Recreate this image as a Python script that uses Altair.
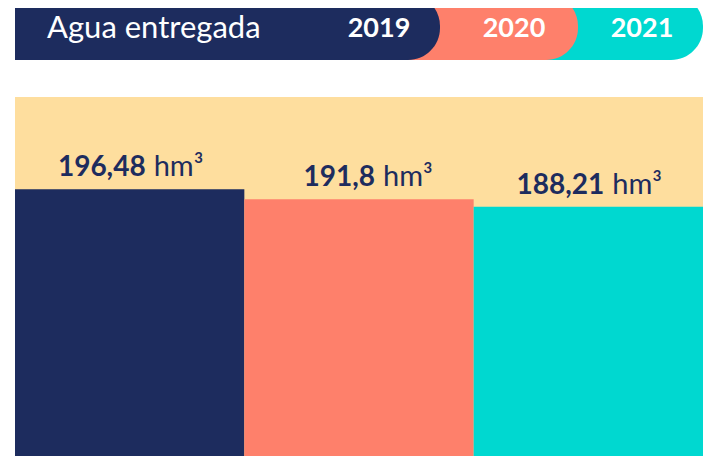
import altair as alt
import pandas as pd

# ---- data ----
years = ["2019", "2020", "2021"]
values = [196.48, 191.8, 188.21]
number_labels = ["196,48", "191,8", "188,21"]
unit_label = "hm³"
title_text = "Agua entregada"

# ---- style ----
NAVY = "#1d2c5e"
SALMON = "#fe806b"
TEAL = "#00d8d0"
YELLOW = "#fede9e"
colors = [NAVY, SALMON, TEAL]
FONT = "Lato"

W, H = 698, 448
PLOT_L, PLOT_R = 7, 695

df = pd.DataFrame({
    "year": years,
    "value": values,
    "num": number_labels,
    "unit": [unit_label] * len(years),
})

x_enc = alt.X("year:N", sort=years,
              scale=alt.Scale(domain=years, range=[PLOT_L, PLOT_R],
                              paddingInner=0, paddingOuter=0),
              axis=None)
y_scale = alt.Scale(domain=[69.5, 282.8])
y_enc = alt.Y("value:Q", scale=y_scale, axis=None)
color_enc = alt.Color("year:N", scale=alt.Scale(domain=years, range=colors),
                      legend=None)

base = alt.Chart(df)

# background panel behind the bars
panel = base.mark_rect(color=YELLOW).encode(
    x=alt.value(PLOT_L), x2=alt.value(PLOT_R),
    y=alt.value(89), y2=alt.value(H)
)

bars = base.mark_bar(strokeWidth=0).encode(
    x=x_enc, y=y_enc, y2=alt.datum(69.5), color=color_enc
)

num_text = base.mark_text(
    font=FONT, fontSize=28, fontWeight=700, color=NAVY,
    align="right", baseline="alphabetic", dx=16, dy=-13
).encode(x=x_enc, y=y_enc, text="num:N")

unit_text = base.mark_text(
    font=FONT, fontSize=29, fontWeight=400, color=NAVY,
    align="left", baseline="alphabetic", dx=24, dy=-13
).encode(x=x_enc, y=y_enc, text="unit:N")

# ---- header tabs ----
tab_ends = [432, 570, 695]          # right edge of each tab (px)
tab_text_x = [371, 506, 634]        # year label centers (px)
layers = [panel, bars, num_text, unit_text]

tabs = []
for i in reversed(range(len(years))):
    tabs.append(
        alt.Chart(pd.DataFrame({"year": [years[i]]})).mark_rect(
            color=colors[i], cornerRadiusTopRight=32, cornerRadiusBottomRight=32,
            cornerRadiusTopLeft=10
        ).encode(
            x=alt.value(PLOT_L), x2=alt.value(tab_ends[i]),
            y=alt.value(-14), y2=alt.value(52)
        )
    )

title_mark = alt.Chart(pd.DataFrame({"t": [title_text]})).mark_text(
    font=FONT, fontSize=31, fontWeight=400, color="white",
    align="left", baseline="alphabetic"
).encode(x=alt.value(39), y=alt.value(30), text="t:N")

year_marks = []
for i, yr in enumerate(years):
    year_marks.append(
        alt.Chart(pd.DataFrame({"year": [yr]})).mark_text(
            font=FONT, fontSize=27, fontWeight=700, color="white",
            align="center", baseline="alphabetic"
        ).encode(x=alt.value(tab_text_x[i]), y=alt.value(29), text="year:N")
    )

chart = alt.layer(*layers, *tabs, title_mark, *year_marks).properties(
    width=W, height=H,
    autosize=alt.AutoSizeParams(type="none"),
    padding=0,
    background="white",
).configure_view(stroke=None)

chart.save("out.html", embed_options={"renderer": "svg", "actions": False})
